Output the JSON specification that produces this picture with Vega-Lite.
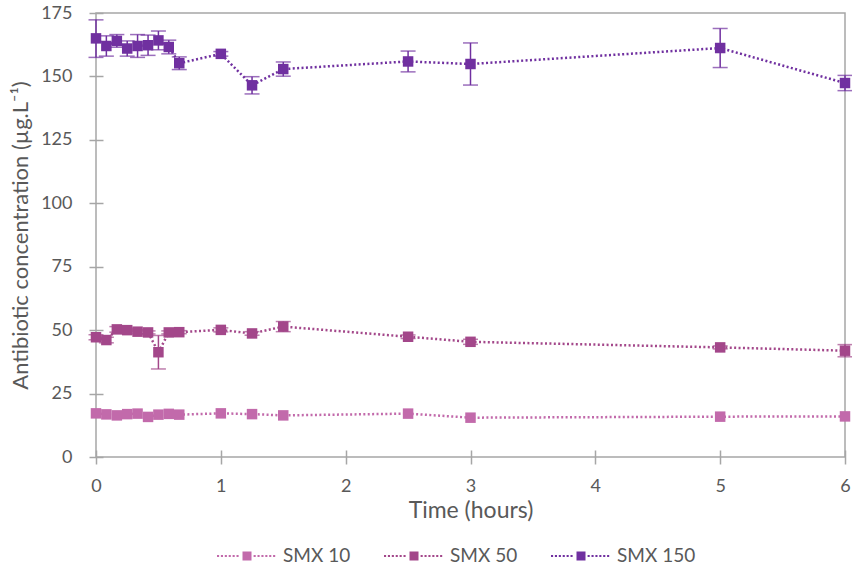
{
  "$schema": "https://vega.github.io/schema/vega-lite/v6.json",
  "width": 749,
  "height": 444,
  "autosize": {"type": "none"},
  "padding": {"left": 96, "top": 13, "right": 7, "bottom": 115},
  "background": "white",
  "config": {
    "font": "Lato",
    "view": {"stroke": "#a6a6a6", "strokeWidth": 1.5},
    "axis": {
      "grid": false,
      "domain": false,
      "tickColor": "#a6a6a6",
      "tickWidth": 1.5,
      "tickSize": 14,
      "offset": -7,
      "labelColor": "#595959",
      "titleColor": "#595959",
      "labelFontSize": 18,
      "titleFontWeight": "normal",
      "labelFont": "Lato",
      "titleFont": "Lato"
    }
  },
  "data": {
    "values": [
      {"series": "SMX 150", "t": 0, "v": 165, "lo": 157.5, "hi": 172.3},
      {"series": "SMX 150", "t": 0.083, "v": 162, "lo": 158, "hi": 166},
      {"series": "SMX 150", "t": 0.167, "v": 164, "lo": 161.5, "hi": 166.5},
      {"series": "SMX 150", "t": 0.25, "v": 161, "lo": 158, "hi": 164},
      {"series": "SMX 150", "t": 0.333, "v": 162, "lo": 157.5, "hi": 166.5},
      {"series": "SMX 150", "t": 0.417, "v": 162.3, "lo": 158.3, "hi": 166.3},
      {"series": "SMX 150", "t": 0.5, "v": 164.2, "lo": 160.5, "hi": 167.9},
      {"series": "SMX 150", "t": 0.583, "v": 161.6, "lo": 158.9, "hi": 164.3},
      {"series": "SMX 150", "t": 0.667, "v": 155.2, "lo": 152.7, "hi": 157.7},
      {"series": "SMX 150", "t": 1, "v": 158.9, "lo": 158, "hi": 159.8},
      {"series": "SMX 150", "t": 1.25, "v": 146.5, "lo": 143.1, "hi": 149.9},
      {"series": "SMX 150", "t": 1.5, "v": 152.9, "lo": 150.1, "hi": 155.7},
      {"series": "SMX 150", "t": 2.5, "v": 155.9, "lo": 151.8, "hi": 160},
      {"series": "SMX 150", "t": 3, "v": 154.9, "lo": 146.6, "hi": 163.2},
      {"series": "SMX 150", "t": 5, "v": 161.2, "lo": 153.5, "hi": 168.9},
      {"series": "SMX 150", "t": 6, "v": 147.4, "lo": 144.4, "hi": 150.4},
      {"series": "SMX 50", "t": 0, "v": 47.2, "lo": 46.2, "hi": 48.2},
      {"series": "SMX 50", "t": 0.083, "v": 46.1, "lo": 45, "hi": 47.2},
      {"series": "SMX 50", "t": 0.167, "v": 50.3, "lo": 49.2, "hi": 51.4},
      {"series": "SMX 50", "t": 0.25, "v": 50, "lo": 49.3, "hi": 50.7},
      {"series": "SMX 50", "t": 0.333, "v": 49.4, "lo": 48.6, "hi": 50.2},
      {"series": "SMX 50", "t": 0.417, "v": 49.1, "lo": 48.5, "hi": 49.7},
      {"series": "SMX 50", "t": 0.5, "v": 41.3, "lo": 34.7, "hi": 47.9},
      {"series": "SMX 50", "t": 0.583, "v": 49.1, "lo": 48.5, "hi": 49.7},
      {"series": "SMX 50", "t": 0.667, "v": 49.2, "lo": 48.6, "hi": 49.8},
      {"series": "SMX 50", "t": 1, "v": 50.1, "lo": 49.3, "hi": 50.9},
      {"series": "SMX 50", "t": 1.25, "v": 48.7, "lo": 48, "hi": 49.4},
      {"series": "SMX 50", "t": 1.5, "v": 51.4, "lo": 49.4, "hi": 53.4},
      {"series": "SMX 50", "t": 2.5, "v": 47.4, "lo": 46.7, "hi": 48.1},
      {"series": "SMX 50", "t": 3, "v": 45.4, "lo": 44.4, "hi": 46.4},
      {"series": "SMX 50", "t": 5, "v": 43.2, "lo": 42.6, "hi": 43.8},
      {"series": "SMX 50", "t": 6, "v": 41.9, "lo": 39.5, "hi": 44.3},
      {"series": "SMX 10", "t": 0, "v": 17.2},
      {"series": "SMX 10", "t": 0.083, "v": 16.8},
      {"series": "SMX 10", "t": 0.167, "v": 16.4},
      {"series": "SMX 10", "t": 0.25, "v": 16.9},
      {"series": "SMX 10", "t": 0.333, "v": 17.1},
      {"series": "SMX 10", "t": 0.417, "v": 15.8},
      {"series": "SMX 10", "t": 0.5, "v": 16.7},
      {"series": "SMX 10", "t": 0.583, "v": 17},
      {"series": "SMX 10", "t": 0.667, "v": 16.7},
      {"series": "SMX 10", "t": 1, "v": 17.2},
      {"series": "SMX 10", "t": 1.25, "v": 16.9},
      {"series": "SMX 10", "t": 1.5, "v": 16.4},
      {"series": "SMX 10", "t": 2.5, "v": 17.1},
      {"series": "SMX 10", "t": 3, "v": 15.5},
      {"series": "SMX 10", "t": 5, "v": 15.9},
      {"series": "SMX 10", "t": 6, "v": 16}
    ]
  },
  "encoding": {
    "x": {
      "field": "t",
      "type": "quantitative",
      "scale": {"domain": [0, 6], "nice": false, "zero": false},
      "axis": {"values": [0, 1, 2, 3, 4, 5, 6], "title": "Time (hours)", "titleFontSize": 23, "labelPadding": 13, "titlePadding": 4, "labelFlush": false}
    },
    "color": {
      "field": "series",
      "type": "nominal",
      "scale": {"domain": ["SMX 10", "SMX 50", "SMX 150"], "range": ["#c26aab", "#a3478a", "#7030a0"]},
      "legend": {
        "title": null,
        "orient": "none",
        "direction": "horizontal",
        "legendX": 121,
        "legendY": 513,
        "symbolType": "M-1,-0.035h0.07v0.07h-0.07Z M-0.87,-0.035h0.07v0.07h-0.07Z M-0.74,-0.035h0.07v0.07h-0.07Z M-0.61,-0.035h0.07v0.07h-0.07Z M-0.48,-0.035h0.07v0.07h-0.07Z M-0.35,-0.035h0.07v0.07h-0.07Z M-0.15,-0.15h0.3v0.3h-0.3Z M0.22,-0.035h0.07v0.07h-0.07Z M0.35,-0.035h0.07v0.07h-0.07Z M0.48,-0.035h0.07v0.07h-0.07Z M0.61,-0.035h0.07v0.07h-0.07Z M0.74,-0.035h0.07v0.07h-0.07Z M0.87,-0.035h0.07v0.07h-0.07Z",
        "symbolSize": 3600,
        "symbolStrokeWidth": 0,
        "labelFontSize": 19,
        "labelColor": "#595959",
        "labelFont": "Lato",
        "labelOffset": 6,
        "columnPadding": 33,
        "encode": {
          "symbols": {"update": {"fill": {"scale": "color", "field": "value"}, "stroke": {"value": "transparent"}, "opacity": {"value": 1}}}
        }
      }
    }
  },
  "layer": [
    {
      "mark": {"type": "line", "strokeWidth": 2.5, "strokeDash": [2, 2.4]},
      "encoding": {
        "y": {
          "field": "v",
          "type": "quantitative",
          "title": "Antibiotic concentration (µg.L⁻¹)",
          "scale": {"domain": [0, 175], "nice": false},
          "axis": {"values": [0, 25, 50, 75, 100, 125, 150, 175], "titleFontSize": 22, "labelPadding": 17, "titlePadding": 8}
        }
      }
    },
    {
      "transform": [{"filter": "isValid(datum.lo)"}],
      "mark": {"type": "errorbar", "ticks": {"size": 15, "thickness": 1.5}, "thickness": 1.5},
      "encoding": {
        "y": {"field": "lo", "type": "quantitative", "title": "Antibiotic concentration (µg.L⁻¹)"},
        "y2": {"field": "hi"}
      }
    },
    {
      "mark": {"type": "point", "shape": "square", "filled": true, "size": 110, "opacity": 1},
      "encoding": {
        "y": {"field": "v", "type": "quantitative", "title": "Antibiotic concentration (µg.L⁻¹)"}
      }
    }
  ]
}
